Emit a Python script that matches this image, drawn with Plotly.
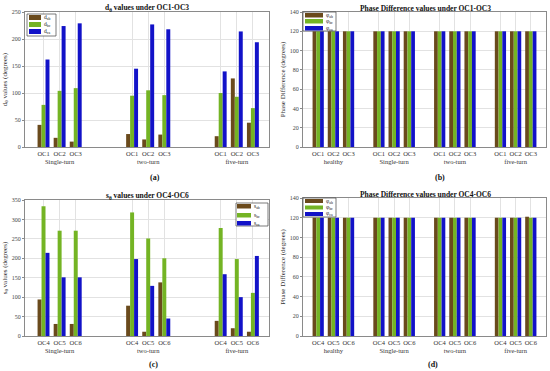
import plotly.graph_objects as go

# ---------------- data ----------------
groups_ac = ["Single-turn", "two-turn", "five-turn"]
cases_a = ["OC1", "OC2", "OC3"]
cases_c = ["OC4", "OC5", "OC6"]
groups_bd = ["healthy", "Single-turn", "two-turn", "five-turn"]

d_ab = [41, 17, 10, 24, 14, 23, 20, 127, 45]
d_bc = [78, 104, 109, 95, 105, 96, 100, 93, 72]
d_ca = [162, 224, 229, 145, 227, 218, 140, 214, 194]

s_ab = [94, 31, 31, 78, 11, 138, 39, 20, 11]
s_bc = [334, 271, 271, 318, 251, 200, 278, 198, 111]
s_ca = [214, 151, 151, 198, 129, 45, 159, 100, 206]

phi_ab_b = [120, 120, 120, 120, 120, 120, 120, 120, 120, 120, 120, 120]
phi_bc_b = [120, 120, 120, 120, 120, 120, 120, 120, 120, 120, 120, 120]
phi_ca_b = [120, 120, 120, 120, 120, 120, 120, 120, 120, 120, 120, 120]

phi_ab_d = [120, 120, 120, 120, 120, 120, 120, 120, 120, 120, 120, 121]
phi_bc_d = [120, 120, 120, 120, 120, 120, 120, 120, 120, 120, 120, 120]
phi_ca_d = [120, 120, 120, 120, 120, 120, 120, 120, 120, 120, 120, 120]

names_d = ["d<sub>ab</sub>", "d<sub>bc</sub>", "d<sub>ca</sub>"]
names_s = ["s<sub>ab</sub>", "s<sub>bc</sub>", "s<sub>ca</sub>"]
names_phi = ["φ<sub>ab</sub>", "φ<sub>bc</sub>", "φ<sub>ca</sub>"]

# ---------------- styling ----------------
BROWN = "#6a4a1c"
GREEN = "#74b424"
BLUE = "#1212c8"
COLORS = [BROWN, GREEN, BLUE]
SERIF = "Liberation Serif, DejaVu Serif, serif"
GRID = "#e2e2e2"
AX = "#8a8a8a"
W, H = 550, 371


def positions(groups, cases, step):
    xs, texts = [], []
    for g, gname in enumerate(groups):
        for i, c in enumerate(cases):
            xs.append(g * step + i + 1)
            texts.append(c + ("<br>" + gname if i == 1 else ""))
    return xs, texts


xa, ta = positions(groups_ac, cases_a, 5.5)
xc, tc = positions(groups_ac, cases_c, 5.5)
xb, tb = positions(groups_bd, cases_a, 4)
xd, td = positions(groups_bd, cases_c, 4)

fig = go.Figure()


def add(x, ys, names, xaxis, yaxis):
    for y, n, col in zip(ys, names, COLORS):
        fig.add_trace(go.Bar(x=x, y=y, name=n, marker=dict(color=col, line=dict(width=0)),
                             xaxis=xaxis, yaxis=yaxis, showlegend=False, offsetgroup=n + xaxis))


add(xa, [d_ab, d_bc, d_ca], names_d, "x", "y")
add(xb, [phi_ab_b, phi_bc_b, phi_ca_b], names_phi, "x2", "y2")
add(xc, [s_ab, s_bc, s_ca], names_s, "x3", "y3")
add(xd, [phi_ab_d, phi_bc_d, phi_ca_d], names_phi, "x4", "y4")


def xd_(a, b):
    return [a / W, b / W]


def yd_(top, bottom):
    return [1 - bottom / H, 1 - top / H]


common_x = dict(showgrid=True, gridcolor=GRID, showline=True, linecolor=AX, mirror=True,
                ticks="", tickangle=0, tickfont=dict(family=SERIF, size=6.5, color="#333"),
                zeroline=False, tickmode="array", automargin=False)
common_y = dict(showgrid=True, gridcolor=GRID, showline=True, linecolor=AX, mirror=True,
                ticks="outside", ticklen=2, tickcolor=AX, automargin=False,
                tickfont=dict(family=SERIF, size=6, color="#444"), zeroline=False)
ytitle_font = dict(size=7, family=SERIF, color="#333")

fig.update_layout(
    width=W, height=H, margin=dict(l=0, r=0, t=0, b=0),
    paper_bgcolor="white", plot_bgcolor="white",
    barmode="group", bargap=0.26, bargroupgap=0,
    font=dict(family=SERIF, color="#333"),
    xaxis=dict(common_x, domain=xd_(25, 269), range=[-0.15, 15], tickvals=xa, ticktext=ta, anchor="y"),
    yaxis=dict(common_y, domain=yd_(12, 147), range=[0, 250], dtick=50, anchor="x",
               title=dict(text="d<sub>θ</sub> values (degrees)", font=ytitle_font, standoff=3)),
    xaxis2=dict(common_x, domain=xd_(303, 546), range=[0, 16], tickvals=xb, ticktext=tb, anchor="y2"),
    yaxis2=dict(common_y, domain=yd_(12, 147), range=[0, 140], dtick=20, anchor="x2",
                title=dict(text="Phase Difference (degrees)", font=ytitle_font, standoff=3)),
    xaxis3=dict(common_x, domain=xd_(25, 269), range=[-0.15, 15], tickvals=xc, ticktext=tc, anchor="y3"),
    yaxis3=dict(common_y, domain=yd_(200, 336), range=[0, 350], dtick=50, anchor="x3",
                title=dict(text="s<sub>θ</sub> values (degrees)", font=ytitle_font, standoff=3)),
    xaxis4=dict(common_x, domain=xd_(303, 546), range=[0, 16], tickvals=xd, ticktext=td, anchor="y4"),
    yaxis4=dict(common_y, domain=yd_(198, 336), range=[0, 140], dtick=20, anchor="x4",
                title=dict(text="Phase Difference (degrees)", font=ytitle_font, standoff=3)),
)


def px_x(v):
    return v / W


def px_y(v):
    return 1 - v / H


# custom compact legends (box, swatches, labels), in pixel units of the page
def legend(names, left, top, right, bottom, sw_left, sw_w, row_tops, sw_h):
    fig.add_shape(type="rect", xref="paper", yref="paper",
                  x0=px_x(left), x1=px_x(right), y0=px_y(bottom), y1=px_y(top),
                  line=dict(color="#444", width=0.7), fillcolor="white", layer="above")
    for n, col, rt in zip(names, COLORS, row_tops):
        fig.add_shape(type="rect", xref="paper", yref="paper",
                      x0=px_x(sw_left), x1=px_x(sw_left + sw_w), y0=px_y(rt + sw_h), y1=px_y(rt),
                      line=dict(width=0), fillcolor=col, layer="above")
        fig.add_annotation(text=n, x=px_x(sw_left + sw_w + 1), y=px_y(rt + sw_h / 2),
                           xref="paper", yref="paper", showarrow=False, xanchor="left",
                           yanchor="middle", font=dict(family=SERIF, size=5.5, color="#222"))


legend(names_d, 27, 14, 56, 36, 29, 12, [15, 22, 29], 5)
legend(names_phi, 303, 12, 336, 31, 305, 18, [13, 19, 26], 4.5)
legend(names_s, 236, 203, 268, 226, 237, 14, [204, 213, 221], 4.5)
legend(names_phi, 303, 198, 336, 217, 305, 18, [199, 205.5, 212], 4)

titles = [
    ("d<sub>θ</sub> values under OC1-OC3", 147, 8),
    ("Phase Difference values under OC1-OC3", 425, 8),
    ("s<sub>θ</sub> values under OC4-OC6", 147, 196),
    ("Phase Difference values under OC4-OC6", 425, 194),
]
for text, xc_, yc_ in titles:
    fig.add_annotation(text="<b>" + text + "</b>", x=xc_ / W, y=1 - yc_ / H, xref="paper", yref="paper",
                       showarrow=False, font=dict(family=SERIF, size=7.5, color="#111"),
                       xanchor="center", yanchor="middle")

labels = [("(a)", 155, 177), ("(b)", 440, 178), ("(c)", 153, 364), ("(d)", 433, 364)]
for text, xc_, yc_ in labels:
    fig.add_annotation(text="<b>" + text + "</b>", x=xc_ / W, y=1 - yc_ / H, xref="paper", yref="paper",
                       showarrow=False, font=dict(family=SERIF, size=8, color="#111"),
                       xanchor="center", yanchor="middle")

fig.write_html("out.html", config={"displayModeBar": False},
               post_script="document.body.style.margin='0';document.body.style.padding='0';")
